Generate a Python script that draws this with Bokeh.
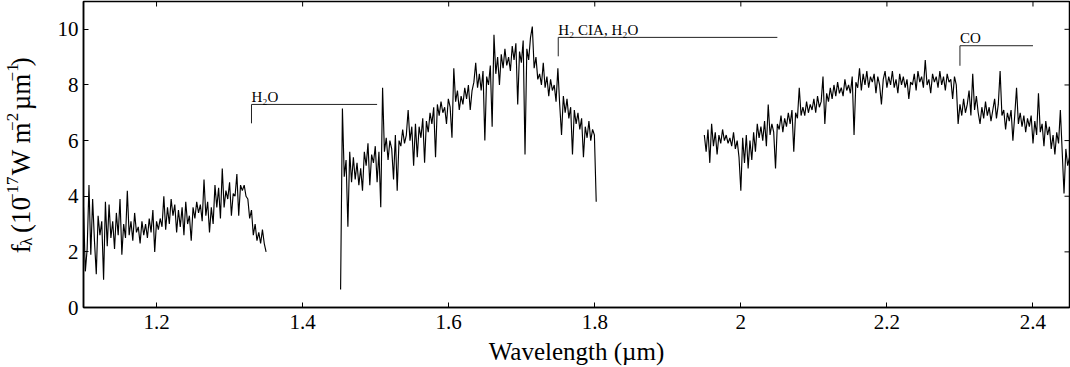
import numpy as np
from bokeh.plotting import figure
from bokeh.layouts import row
from bokeh.models import Range1d, LinearAxis, FixedTicker, CustomJSTickFormatter
from bokeh.core.properties import value
from bokeh.embed import file_html
from bokeh.resources import INLINE

FONT = "Liberation Serif"

# ---------------- data ----------------
seg1_wave = (1.100, 1.350)
seg1_flux = [3.6, 1.3, 2.1, 4.4, 1.9, 3.9, 2.4, 1.2, 3.3, 2.6,
             3.1, 1.0, 3.8, 2.2, 3.7, 2.5, 3.1, 2.1, 3.4, 2.6,
             3.9, 1.9, 3.0, 2.5, 4.2, 2.6, 3.1, 2.4, 3.4, 2.7,
             2.9, 2.3, 3.1, 2.6, 3.0, 2.5, 3.2, 2.7, 3.5, 2.0,
             3.1, 2.8, 3.2, 2.9, 4.0, 2.8, 3.6, 3.0, 3.9, 3.3,
             3.7, 2.7, 3.5, 2.9, 3.6, 2.6, 3.8, 3.0, 3.3, 2.4,
             3.6, 3.2, 3.8, 3.4, 3.7, 3.1, 4.6, 3.3, 3.8, 2.7,
             3.6, 3.0, 4.4, 3.6, 4.3, 3.2, 5.0, 3.6, 4.2, 3.9,
             4.5, 3.3, 4.1, 4.0, 4.8, 3.3, 4.4, 4.2, 4.4, 4.0,
             3.9, 3.2, 3.5, 2.6, 3.0, 2.4, 2.7, 2.3, 2.8, 2.3,
             2.0]

seg2_wave = (1.452, 1.802)
seg2_flux = [0.65, 7.15, 4.7, 5.3, 2.9, 5.6, 4.5, 5.4, 4.6, 5.2,
             4.4, 5.0, 4.2, 5.6, 5.1, 5.9, 4.4, 5.5, 5.2, 5.8,
             4.5, 5.6, 3.6, 7.9, 5.6, 6.1, 5.3, 6.0, 5.7, 4.6,
             6.2, 4.2, 6.0, 5.8, 6.4, 5.9, 6.2, 7.1, 6.0, 6.5,
             5.1, 6.6, 5.4, 6.5, 6.1, 6.8, 5.2, 6.7, 6.3, 7.0,
             6.6, 7.2, 5.4, 7.3, 6.9, 7.4, 7.0, 7.2, 6.6, 7.5,
             7.2, 6.1, 8.6, 7.4, 7.8, 7.1, 7.6, 7.3, 7.9, 7.5,
             8.0, 7.1, 7.8, 8.1, 8.8, 7.9, 8.4, 7.8, 8.5, 6.0,
             8.3, 8.0, 8.7, 6.5, 9.8, 8.4, 9.0, 8.0, 9.1, 8.6,
             9.3, 8.7, 9.0, 8.5, 9.4, 8.9, 9.5, 7.3, 9.2, 8.8,
             9.6, 5.5, 9.3, 8.9, 9.7, 10.1, 8.6, 9.0, 8.2, 8.4,
             8.0, 8.8, 7.9, 8.3, 7.6, 8.2, 7.8, 8.0, 7.4, 8.6,
             7.3, 6.2, 7.6, 7.0, 7.5, 6.8, 7.2, 5.5, 7.1, 6.6,
             7.0, 6.4, 6.8, 5.4, 6.5, 6.1, 6.7, 6.0, 6.4, 6.2,
             3.8]

seg3_wave = (1.950, 2.450)
seg3_flux = [6.2, 5.6, 6.4, 5.2, 6.6, 5.8, 6.3, 5.5, 6.2, 5.9,
             6.4, 6.0, 6.2, 5.9, 6.1, 5.8, 6.3, 5.7, 6.0, 5.4,
             4.2, 6.1, 5.2, 6.2, 5.0, 6.0, 5.3, 6.3, 5.6, 6.6,
             6.1, 6.5, 6.0, 6.7, 5.8, 7.3, 6.2, 6.6, 6.3, 5.0,
             6.6, 6.4, 6.9, 6.3, 6.8, 6.5, 7.0, 6.6, 7.1, 5.6,
             7.0, 6.8, 7.9, 6.9, 7.2, 6.9, 7.4, 7.0, 7.3, 7.1,
             7.5, 7.0, 7.6, 7.2, 7.4, 8.3, 6.6, 7.7, 7.4, 7.9,
             7.5, 8.0, 7.6, 8.1, 7.7, 7.9, 7.6, 8.2, 7.8, 8.0,
             7.7, 8.3, 6.2, 8.1, 7.9, 8.6, 7.8, 8.4, 8.0, 8.5,
             7.9, 8.3, 8.1, 8.4, 7.7, 8.3, 8.0, 7.3, 8.2, 8.5,
             7.9, 8.3, 8.0, 8.5, 7.9, 8.2, 7.7, 8.4, 8.0, 8.3,
             7.9, 8.2, 7.5, 8.1, 8.0, 8.4, 7.8, 8.5, 8.1, 8.3,
             7.9, 8.9, 8.0, 8.2, 7.7, 8.4, 8.1, 8.3, 7.9, 8.5,
             8.0, 8.3, 7.8, 8.4, 8.1, 8.2, 7.5, 8.3, 8.0, 6.6,
             7.3, 6.9, 7.5, 7.0, 7.3, 7.8, 6.9, 8.4, 7.1, 7.6,
             7.0, 6.6, 7.2, 6.8, 7.4, 6.9, 7.2, 6.7, 7.1, 7.5,
             6.8, 7.3, 8.5, 6.9, 7.1, 6.4, 7.0, 6.7, 7.1, 6.0,
             6.9, 7.9, 6.6, 7.0, 6.5, 6.9, 6.3, 6.8, 6.5, 6.9,
             5.9, 6.7, 6.2, 7.7, 6.3, 6.6, 5.8, 6.7, 6.2, 6.5,
             5.7, 6.2, 5.5, 6.3, 5.9, 7.1, 5.6, 4.1, 5.7, 5.1,
             5.4]

x_ticks = [1.2, 1.4, 1.6, 1.8, 2.0, 2.2, 2.4]
y_ticks = [0, 2, 4, 6, 8, 10]
x_lim = (1.1, 2.45)
y_lim = (0, 11)

band_labels = ["H\u2082O", "H\u2082 CIA, H\u2082O", "CO"]
band_start = [1.33, 1.75, 2.30]
band_end = [1.502, 2.05, 2.40]
band_level = [7.30, 9.71, 9.41]
band_foot = [6.62, 9.03, 8.69]

x_title = "Wavelength (\u00b5m)"
# y title pieces: (text, role) ; role: "n" normal, "sub", "sup", "gap"
y_title_parts = [("f", "n"), ("\u03bb", "sub"), ("", "gap"), ("(10", "n"), ("\u221217", "sup"), ("", "gap"),
                 ("W m", "n"), ("\u22122", "sup"), ("", "gap"), ("\u00b5m", "n"), ("\u22121", "sup"), (")", "n")]

# ---------------- layout sizes ----------------
W, H = 1070, 367
LW = 44                      # width of the strip that holds the y title
FRAME_LEFT = 83

# ---------------- y title strip ----------------
lf = figure(width=LW, height=H, output_backend="svg", toolbar_location=None,
            x_range=Range1d(0, LW), y_range=Range1d(0, H),
            min_border_left=0, min_border_right=0, min_border_top=0, min_border_bottom=0,
            x_axis_type=None, y_axis_type=None)
lf.grid.visible = False
lf.outline_line_color = None
lf.background_fill_color = "white"
lf.border_fill_color = "white"

S, s = 27, 17
em = {"f": 0.333, "\u03bb": 0.5, "(10": 1.333, "\u221217": 1.564, "W m": 1.972,
      "\u22122": 1.064, "\u00b5m": 1.278, "\u22121": 1.064, ")": 0.333}
ypos = 65
base_x = 20
for txt, role in y_title_parts:
    if role == "gap":
        ypos += 0.25 * S
        continue
    sz = S if role == "n" else s
    shift = {"n": 0, "sub": 6, "sup": -8}[role]
    lf.text(x=[base_x + shift], y=[ypos], text=[txt], angle=np.pi / 2,
            text_font=value(FONT), text_font_size=f"{sz}px", text_color="black",
            text_align="left", text_baseline="alphabetic")
    ypos += sz * em[txt]

# ---------------- main figure ----------------
p = figure(width=W - LW, height=H, output_backend="svg", toolbar_location=None,
           x_range=Range1d(*x_lim), y_range=Range1d(*y_lim),
           min_border_left=FRAME_LEFT - LW, min_border_right=1, min_border_top=1, min_border_bottom=10,
           x_axis_type=None, y_axis_type=None)
p.grid.visible = False
p.outline_line_color = "black"
p.outline_line_width = 1.5
p.background_fill_color = "white"
p.border_fill_color = "white"

xfmt = CustomJSTickFormatter(code="return (Math.round(tick*10)/10).toString();")

def style_axis(ax):
    ax.major_tick_in = 5
    ax.major_tick_out = 0
    ax.minor_tick_line_color = None
    ax.axis_line_color = "black"
    ax.axis_line_width = 1.5
    ax.major_tick_line_color = "black"
    ax.major_tick_line_width = 1
    ax.major_label_text_font = FONT
    ax.major_label_text_color = "black"
    ax.major_label_text_font_size = "21px"

bottom = LinearAxis(ticker=FixedTicker(ticks=x_ticks), formatter=xfmt)
style_axis(bottom)
bottom.major_label_standoff = 7
bottom.axis_label = x_title
bottom.axis_label_text_font = FONT
bottom.axis_label_text_font_style = "normal"
bottom.axis_label_text_font_size = "25px"
bottom.axis_label_text_color = "black"
bottom.axis_label_standoff = 6
p.add_layout(bottom, "below")

left = LinearAxis(ticker=FixedTicker(ticks=y_ticks))
style_axis(left)
left.major_label_standoff = 5
p.add_layout(left, "left")

# mirrored inward ticks on the top and right edges (half of each dash is clipped by the frame)
p.scatter(x=x_ticks, y=[y_lim[1]] * len(x_ticks), marker="dash", size=10, angle=np.pi / 2,
          line_color="black", line_width=1)
p.scatter(x=[x_lim[1]] * len(y_ticks), y=y_ticks, marker="dash", size=10, angle=0,
          line_color="black", line_width=1)

# ---------------- spectrum ----------------
for (w0, w1), flux in [(seg1_wave, seg1_flux), (seg2_wave, seg2_flux), (seg3_wave, seg3_flux)]:
    wave = np.linspace(w0, w1, len(flux))
    p.line(wave, flux, line_color="black", line_width=1.15)

# ---------------- band brackets ----------------
p.segment(x0=band_start, y0=band_level, x1=band_end, y1=band_level, line_color="#222222", line_width=1)
p.segment(x0=band_start, y0=band_foot, x1=band_start, y1=band_level, line_color="#222222", line_width=1)
p.text(x=band_start, y=[v + 0.28 for v in band_level], text=band_labels,
       text_font=value(FONT), text_font_size="15px", text_color="black",
       text_align="left", text_baseline="alphabetic")

layout = row(lf, p)
open("out.html", "w").write(file_html(layout, INLINE))
